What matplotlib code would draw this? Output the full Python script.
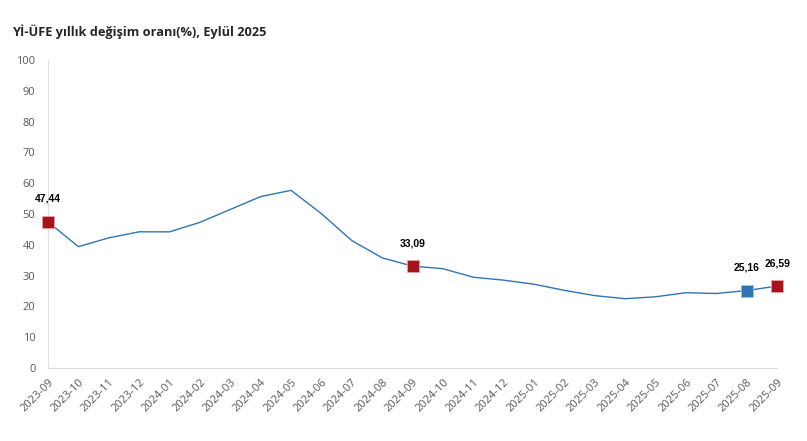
import matplotlib.pyplot as plt
import numpy as np

# veri
months = ["2023-09", "2023-10", "2023-11", "2023-12", "2024-01", "2024-02", "2024-03",
          "2024-04", "2024-05", "2024-06", "2024-07", "2024-08", "2024-09", "2024-10",
          "2024-11", "2024-12", "2025-01", "2025-02", "2025-03", "2025-04", "2025-05",
          "2025-06", "2025-07", "2025-08", "2025-09"]
values = [47.44, 39.39, 42.25, 44.22, 44.20, 47.29, 51.47, 55.66, 57.68, 50.09, 41.37,
          35.75, 33.09, 32.24, 29.47, 28.52, 27.20, 25.21, 23.50, 22.50, 23.13, 24.45,
          24.19, 25.16, 26.59]
red_idx = [0, 12, 24]
blue_idx = [23]

line_c = "#2E75B6"
red_c = "#A6141B"
grey = "#595959"

fig = plt.figure(figsize=(8.07, 4.41), dpi=100)
ax = fig.add_axes([0.0595, 0.1655, 0.9035, 0.6985])

x = np.arange(len(months))
ax.plot(x, values, color=line_c, linewidth=1.0, zorder=2)

for i in red_idx:
    ax.plot(x[i], values[i], marker="s", markersize=9, color=red_c,
            markeredgecolor="#e8a0a0", markeredgewidth=0.6, clip_on=False, zorder=3)
for i in blue_idx:
    ax.plot(x[i], values[i], marker="s", markersize=9, color=line_c,
            markeredgecolor="#9dc3e6", markeredgewidth=0.6, clip_on=False, zorder=3)

for i in red_idx + blue_idx:
    lab = f"{values[i]:.2f}".replace(".", ",")
    ax.annotate(lab, (x[i], values[i]), xytext=(0, 16.5), textcoords="offset points",
                ha="center", va="center", fontsize=7.5, fontweight="bold",
                color="black", family="Liberation Sans", annotation_clip=False)

ax.set_xlim(0, len(months) - 1)
ax.set_ylim(0, 100)
ax.set_yticks(range(0, 101, 10))
ax.set_xticks(x)
ax.set_xticklabels(months, rotation=45, ha="right", rotation_mode="anchor")
ax.tick_params(axis="both", length=0, colors=grey, labelsize=8)
ax.tick_params(axis="y", pad=9)
ax.tick_params(axis="x", pad=6)
for lbl in ax.get_xticklabels() + ax.get_yticklabels():
    lbl.set_family("Open Sans")

for s in ["top", "right"]:
    ax.spines[s].set_visible(False)
ax.spines["left"].set_color("#e0e0e0")
ax.spines["bottom"].set_color("#d9d9d9")

fig.text(0.0149, 0.927, "Yİ-ÜFE yıllık değişim oranı(%), Eylül 2025", fontsize=9.2,
         fontweight="bold", color="#262626", family="Open Sans", va="center")

fig.savefig("out.png", dpi=100)
